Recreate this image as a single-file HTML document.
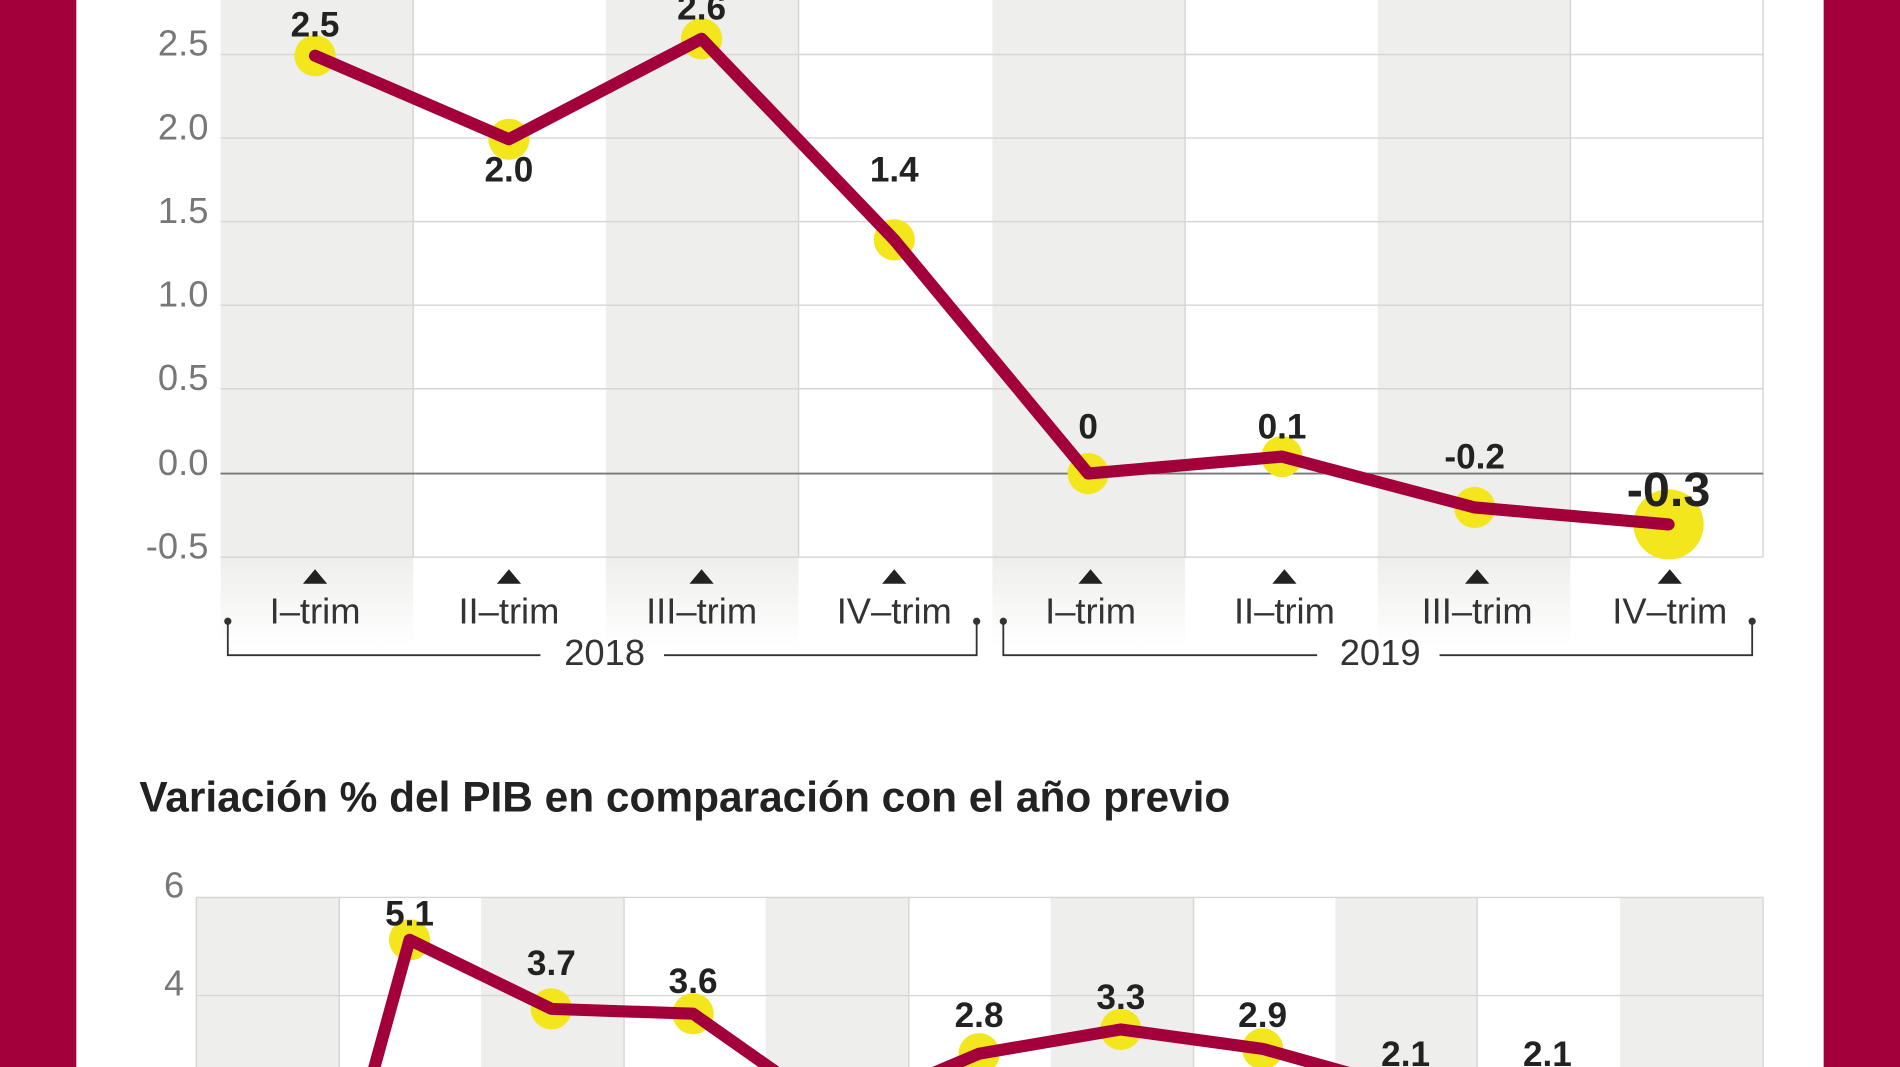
<!DOCTYPE html>
<html><head><meta charset="utf-8"><style>
html,body{margin:0;padding:0;background:#fff;width:1900px;height:1067px;overflow:hidden;}
svg{display:block;overflow:hidden;}
text{font-family:"Liberation Sans",sans-serif;}
</style></head><body>
<svg width="1900" height="1067" viewBox="0 0 1568 881" preserveAspectRatio="none" xmlns="http://www.w3.org/2000/svg">
<defs>
<linearGradient id="fade" x1="0" y1="0" x2="0" y2="1">
<stop offset="0" stop-color="#eeeeec"/><stop offset="1" stop-color="#eeeeec" stop-opacity="0"/>
</linearGradient>
</defs>
<rect x="0" y="0" width="1568" height="881" fill="#fff"/>
<rect x="0" y="0" width="63" height="881" fill="#a3003b"/>
<rect x="1505" y="0" width="63" height="881" fill="#a3003b"/>

<g fill="#eeeeec">
<rect x="182" y="0" width="159" height="460"/>
<rect x="500" y="0" width="159" height="460"/>
<rect x="819" y="0" width="159" height="460"/>
<rect x="1137" y="0" width="159" height="460"/>
</g>
<g fill="url(#fade)">
<rect x="182" y="460" width="159" height="75"/>
<rect x="500" y="460" width="159" height="75"/>
<rect x="819" y="460" width="159" height="75"/>
<rect x="1137" y="460" width="159" height="75"/>
</g>
<g stroke="#d6d6d6" stroke-width="1.2">
<line x1="341" y1="0" x2="341" y2="460"/><line x1="659" y1="0" x2="659" y2="460"/>
<line x1="978" y1="0" x2="978" y2="460"/><line x1="1296" y1="0" x2="1296" y2="460"/>
<line x1="1455" y1="0" x2="1455" y2="460"/>
<line x1="182" y1="45" x2="1455" y2="45"/><line x1="182" y1="114" x2="1455" y2="114"/>
<line x1="182" y1="183" x2="1455" y2="183"/><line x1="182" y1="252" x2="1455" y2="252"/>
<line x1="182" y1="321" x2="1455" y2="321"/><line x1="182" y1="460" x2="1455" y2="460"/>
</g>
<line x1="182" y1="391" x2="1455" y2="391" stroke="#777" stroke-width="1.5"/>
<g fill="#777" font-size="30" text-anchor="end">
<text x="172" y="46">2.5</text><text x="172" y="115">2.0</text><text x="172" y="184">1.5</text>
<text x="172" y="253">1.0</text><text x="172" y="322">0.5</text><text x="172" y="392">0.0</text>
<text x="172" y="461">-0.5</text>
</g>
<g fill="#f4e61c">
<circle cx="260" cy="46" r="17"/><circle cx="420" cy="115" r="17"/><circle cx="579" cy="32" r="17"/>
<circle cx="738" cy="198" r="17"/><circle cx="898" cy="391" r="17"/><circle cx="1058" cy="377" r="17"/>
<circle cx="1217" cy="419" r="17"/><circle cx="1377" cy="433" r="29"/>
</g>
<polyline points="260,46 420,115 579,32 738,198 898,391 1058,377 1217,419 1377,433" fill="none" stroke="#a3003b" stroke-width="10" stroke-linejoin="round" stroke-linecap="round"/>
<g fill="#222" font-size="29" font-weight="bold" text-anchor="middle">
<text x="260" y="30">2.5</text><text x="420" y="150">2.0</text><text x="579" y="16">2.6</text>
<text x="738" y="150">1.4</text><text x="898" y="362">0</text><text x="1058" y="362">0.1</text>
<text x="1217" y="387">-0.2</text><text x="1377" y="418" font-size="40">-0.3</text>
</g>
<g fill="#222">
<polygon points="250,482 270,482 260,470"/><polygon points="410,482 430,482 420,470"/>
<polygon points="569,482 589,482 579,470"/><polygon points="728,482 748,482 738,470"/>
<polygon points="890,482 910,482 900,470"/><polygon points="1050,482 1070,482 1060,470"/>
<polygon points="1209,482 1229,482 1219,470"/><polygon points="1368,482 1388,482 1378,470"/>
</g>
<g fill="#333" font-size="30" text-anchor="middle">
<text x="260" y="515">I–trim</text><text x="420" y="515">II–trim</text><text x="579" y="515">III–trim</text>
<text x="738" y="515">IV–trim</text><text x="900" y="515">I–trim</text><text x="1060" y="515">II–trim</text>
<text x="1219" y="515">III–trim</text><text x="1378" y="515">IV–trim</text>
<text x="499" y="549">2018</text><text x="1139" y="549">2019</text>
</g>
<g stroke="#333" stroke-width="1.5" fill="none">
<polyline points="188,514 188,541 446,541"/><polyline points="548,541 806,541 806,514"/>
<polyline points="828,514 828,541 1087,541"/><polyline points="1188,541 1446,541 1446,514"/>
</g>
<g fill="#333"><circle cx="188" cy="513" r="3"/><circle cx="806" cy="513" r="3"/><circle cx="828" cy="513" r="3"/><circle cx="1446" cy="513" r="3"/></g>

<text x="115" y="670" font-size="35" font-weight="bold" fill="#222">Variación % del PIB en comparación con el año previo</text>

<g fill="#eeeeec">
<rect x="162" y="741" width="118" height="140"/><rect x="397" y="741" width="118" height="140"/>
<rect x="632" y="741" width="118" height="140"/><rect x="867" y="741" width="118" height="140"/>
<rect x="1102" y="741" width="117" height="140"/><rect x="1337" y="741" width="118" height="140"/>
</g>
<g stroke="#d6d6d6" stroke-width="1.2">
<line x1="162" y1="741" x2="1455" y2="741"/><line x1="162" y1="822" x2="1455" y2="822"/>
<line x1="162" y1="741" x2="162" y2="881"/><line x1="280" y1="741" x2="280" y2="881"/>
<line x1="515" y1="741" x2="515" y2="881"/><line x1="750" y1="741" x2="750" y2="881"/>
<line x1="985" y1="741" x2="985" y2="881"/><line x1="1219" y1="741" x2="1219" y2="881"/>
<line x1="1455" y1="741" x2="1455" y2="881"/>
</g>
<g fill="#777" font-size="30" text-anchor="end">
<text x="152" y="741">6</text><text x="152" y="822">4</text>
</g>
<g fill="#f4e61c">
<circle cx="338" cy="776" r="17"/><circle cx="455" cy="833" r="17"/><circle cx="572" cy="837" r="17"/>
<circle cx="808" cy="870" r="17"/><circle cx="925" cy="850" r="17"/><circle cx="1042" cy="866" r="17"/>
</g>
<polyline points="290,950 338,776 455,833 572,837 690,920 808,870 925,850 1042,866 1160,899 1277,899 1395,910" fill="none" stroke="#a3003b" stroke-width="10" stroke-linejoin="round" stroke-linecap="round"/>
<g fill="#222" font-size="29" font-weight="bold" text-anchor="middle">
<text x="338" y="764">5.1</text><text x="455" y="805">3.7</text><text x="572" y="820">3.6</text>
<text x="808" y="848">2.8</text><text x="925" y="833">3.3</text><text x="1042" y="848">2.9</text>
<text x="1160" y="880">2.1</text><text x="1277" y="880">2.1</text>
</g>
</svg>
</body></html>
